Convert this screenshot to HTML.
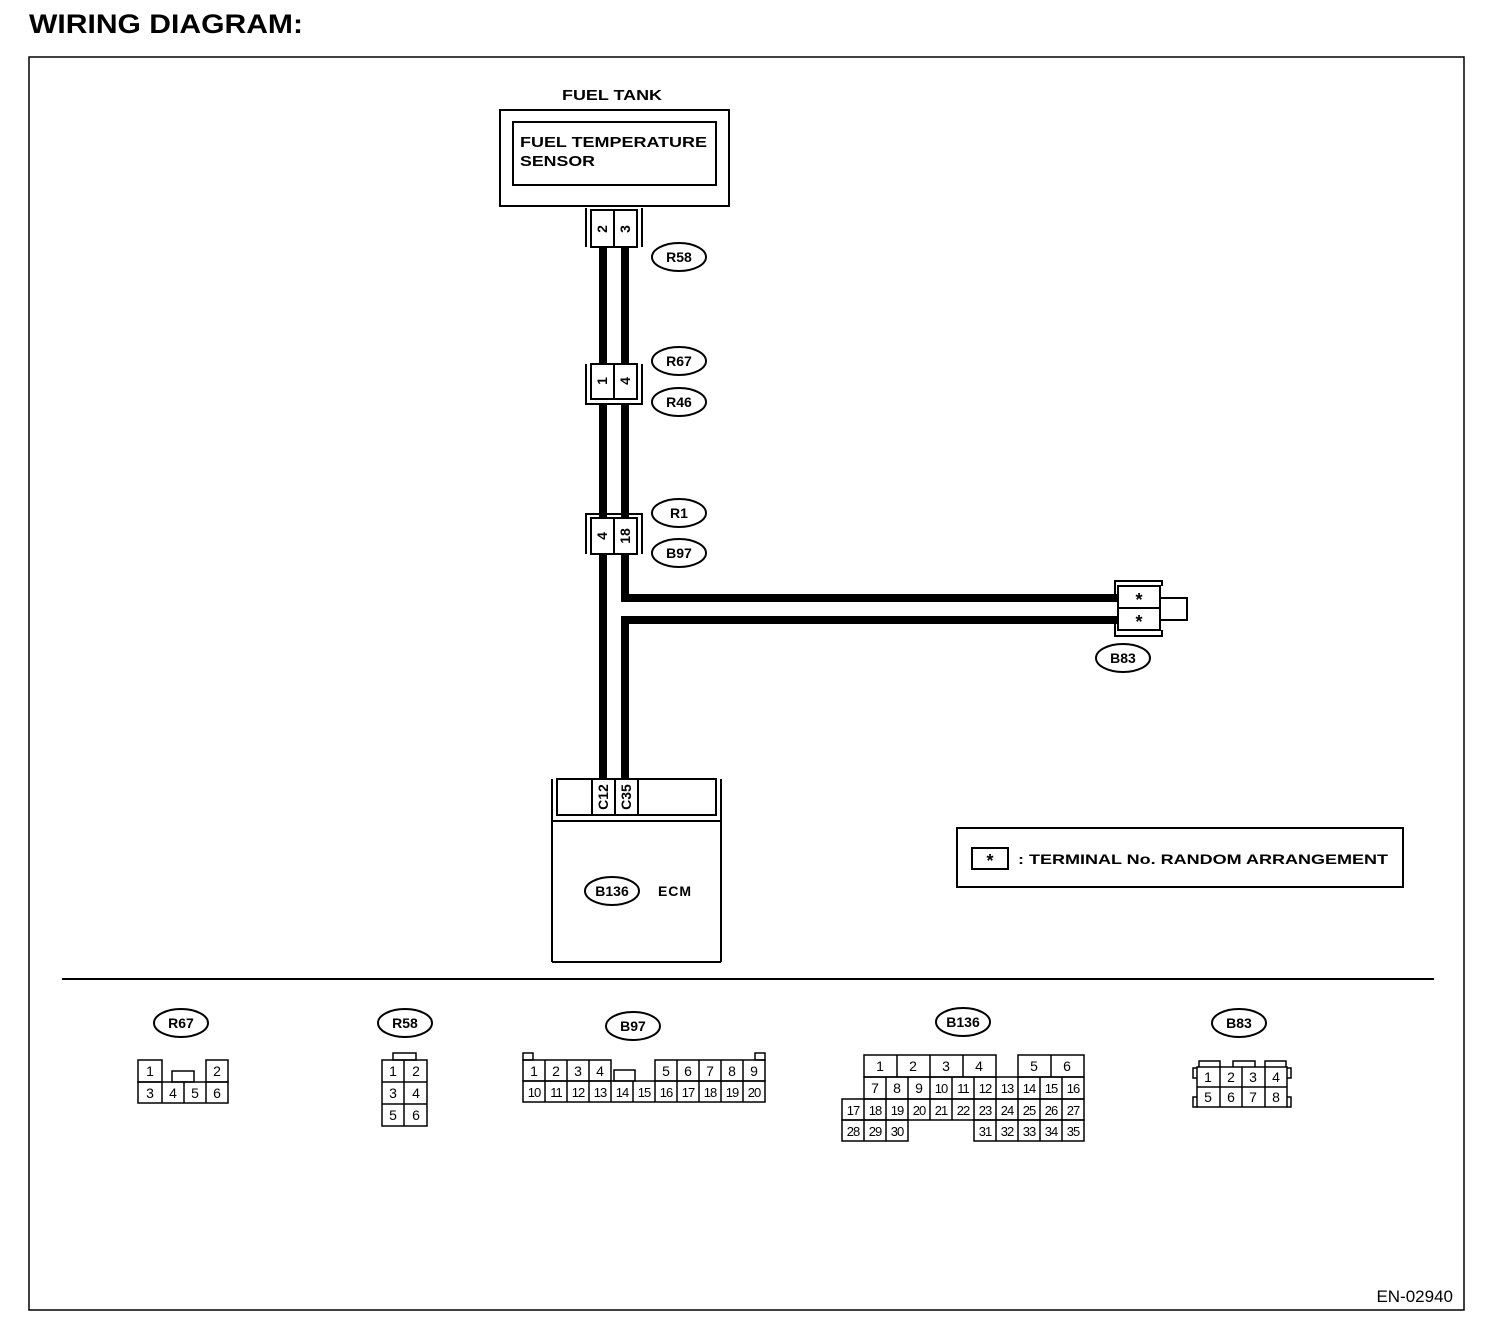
<!DOCTYPE html>
<html><head><meta charset="utf-8"><style>
body{margin:0;background:#fff}
svg{display:block}
text{font-family:"Liberation Sans",Arial,sans-serif;fill:#000}
.b{font-weight:bold}
</style></head><body>
<svg width="1504" height="1338" viewBox="0 0 1504 1338" xmlns="http://www.w3.org/2000/svg">
<text x="29" y="33" class="b" font-size="27" textLength="274" lengthAdjust="spacingAndGlyphs">WIRING DIAGRAM:</text>
<rect x="29" y="57" width="1435" height="1253" fill="none" stroke="#000" stroke-width="1.5"/>

<text x="562" y="100" class="b" font-size="15" textLength="100" lengthAdjust="spacingAndGlyphs">FUEL TANK</text>
<rect x="500" y="110" width="229" height="96" fill="none" stroke="#000" stroke-width="2"/>
<rect x="513" y="122" width="203" height="63" fill="none" stroke="#000" stroke-width="2"/>
<text x="520" y="147" class="b" font-size="15" textLength="187" lengthAdjust="spacingAndGlyphs">FUEL TEMPERATURE</text>
<text x="520" y="166" class="b" font-size="15" textLength="75" lengthAdjust="spacingAndGlyphs">SENSOR</text>

<g fill="none" stroke="#000" stroke-width="2">
<g stroke-width="8">
<line x1="603" y1="248" x2="603" y2="363"/><line x1="625" y1="248" x2="625" y2="363"/>
<line x1="603" y1="403" x2="603" y2="518"/><line x1="625" y1="403" x2="625" y2="518"/>
<line x1="603" y1="555" x2="603" y2="780"/>
<polyline points="625,555 625,598 1118,598"/>
<polyline points="1118,620 625,620 625,780"/>
</g>
<rect x="591" y="210" width="46" height="37" fill="#fff"/><line x1="614" y1="210" x2="614" y2="247"/>
<line x1="586" y1="208" x2="586" y2="247"/><line x1="642" y1="208" x2="642" y2="247"/>
<rect x="591" y="364" width="46" height="35" fill="#fff"/><line x1="614" y1="364" x2="614" y2="399"/>
<polyline points="586,364 586,404 642,404 642,364"/>
<rect x="591" y="518" width="46" height="36" fill="#fff"/><line x1="614" y1="518" x2="614" y2="554"/>
<polyline points="586,554 586,514 642,514 642,554"/>
<rect x="1118" y="586" width="42" height="44" fill="#fff"/><line x1="1118" y1="608" x2="1160" y2="608"/>
<rect x="1160" y="598" width="27" height="22"/>
<polyline points="1115,598 1115,581 1162,581 1162,586"/>
<polyline points="1115,620 1115,636 1162,636 1162,630"/>
<rect x="557" y="779" width="159" height="36"/>
<line x1="592" y1="779" x2="592" y2="815"/><line x1="615" y1="779" x2="615" y2="815"/><line x1="638" y1="779" x2="638" y2="815"/>
<line x1="552" y1="779" x2="552" y2="962"/><line x1="721" y1="779" x2="721" y2="962"/>
<line x1="552" y1="821" x2="721" y2="821"/><line x1="552" y1="962" x2="721" y2="962"/>
<ellipse cx="679" cy="257" rx="27" ry="14"/>
<ellipse cx="679" cy="361" rx="27" ry="14"/>
<ellipse cx="679" cy="402" rx="27" ry="14"/>
<ellipse cx="679" cy="513" rx="27" ry="14"/>
<ellipse cx="679" cy="553" rx="27" ry="14"/>
<ellipse cx="1123" cy="658" rx="27" ry="14"/>
<ellipse cx="612" cy="891" rx="27" ry="14"/>
<rect x="957" y="828" width="446" height="59"/>
<rect x="972" y="848" width="36" height="21"/>
<line x1="62" y1="979" x2="1434" y2="979"/>
<ellipse cx="181" cy="1023" rx="27" ry="14"/>
<ellipse cx="405" cy="1023" rx="27" ry="14"/>
<ellipse cx="633" cy="1026" rx="27" ry="14"/>
<ellipse cx="963" cy="1022" rx="27" ry="14"/>
<ellipse cx="1239" cy="1023" rx="27" ry="14"/>
</g>
<g class="b" font-size="14" text-anchor="middle">
<text x="679" y="262">R58</text><text x="679" y="366">R67</text><text x="679" y="407">R46</text>
<text x="679" y="518">R1</text><text x="679" y="558">B97</text><text x="1123" y="663">B83</text>
<text x="612" y="896">B136</text>
<text x="181" y="1028">R67</text><text x="405" y="1028">R58</text><text x="633" y="1031">B97</text>
<text x="963" y="1027">B136</text><text x="1239" y="1028">B83</text>
</g>
<text x="675" y="896" class="b" font-size="14" text-anchor="middle" letter-spacing="1">ECM</text>
<g class="b" font-size="14" text-anchor="middle">
<text transform="translate(607,229) rotate(-90)">2</text>
<text transform="translate(630,229) rotate(-90)">3</text>
<text transform="translate(607,381) rotate(-90)">1</text>
<text transform="translate(630,381) rotate(-90)">4</text>
<text transform="translate(607,536) rotate(-90)">4</text>
<text transform="translate(630,536) rotate(-90)">18</text>
<text transform="translate(608,797) rotate(-90)">C12</text>
<text transform="translate(631,797) rotate(-90)">C35</text>
<text x="1139" y="606" font-size="18">*</text><text x="1139" y="628" font-size="18">*</text>
<text x="990" y="867" font-size="18">*</text>
</g>
<text x="1018" y="864" class="b" font-size="14" textLength="370" lengthAdjust="spacingAndGlyphs">: TERMINAL No. RANDOM ARRANGEMENT</text>

<g fill="none" stroke="#000" stroke-width="1.5">
<rect x="138" y="1060" width="24" height="22"/><rect x="206" y="1060" width="22" height="22"/>
<rect x="172" y="1071" width="22" height="11"/>
<rect x="138" y="1082" width="90" height="21"/>
<line x1="162" y1="1082" x2="162" y2="1103"/><line x1="184" y1="1082" x2="184" y2="1103"/><line x1="206" y1="1082" x2="206" y2="1103"/>
<rect x="393" y="1053" width="23" height="7"/>
<rect x="382" y="1060" width="45" height="66"/>
<line x1="404" y1="1060" x2="404" y2="1126"/><line x1="382" y1="1082" x2="427" y2="1082"/><line x1="382" y1="1104" x2="427" y2="1104"/>
<rect x="523" y="1053" width="10" height="7"/><rect x="755" y="1053" width="10" height="7"/>
<rect x="523" y="1060" width="88" height="21"/><rect x="655" y="1060" width="110" height="21"/>
<rect x="614" y="1070" width="21" height="11"/>
<rect x="523" y="1081" width="242" height="21"/>
<path d="M545 1060V1102M567 1060V1102M589 1060V1102M611 1081V1102M633 1081V1102M655 1081V1102M677 1060V1102M699 1060V1102M721 1060V1102M743 1060V1102"/>
<rect x="864" y="1055" width="132" height="22"/><rect x="1018" y="1055" width="66" height="22"/>
<path d="M897 1055V1077M930 1055V1077M963 1055V1077M1051 1055V1077"/>
<rect x="864" y="1077" width="220" height="22"/>
<rect x="842" y="1099" width="242" height="21"/>
<rect x="842" y="1120" width="66" height="21"/><rect x="974" y="1120" width="110" height="21"/>
<path d="M886 1077V1141M908 1077V1120M930 1077V1120M952 1077V1120M974 1077V1120M996 1077V1141M1018 1077V1141M1040 1077V1141M1062 1077V1141M864 1099V1141"/>
<rect x="1197" y="1067" width="90" height="40"/><line x1="1197" y1="1087" x2="1287" y2="1087"/>
<path d="M1220 1067V1107M1242 1067V1107M1265 1067V1107"/>
<polyline points="1199,1067 1199,1061 1220,1061 1220,1067"/>
<polyline points="1233,1067 1233,1061 1255,1061 1255,1067"/>
<polyline points="1265,1067 1265,1061 1286,1061 1286,1067"/>
<polyline points="1197,1068 1193,1068 1193,1078 1197,1078"/>
<polyline points="1197,1097 1193,1097 1193,1107 1197,1107"/>
<polyline points="1287,1068 1291,1068 1291,1078 1287,1078"/>
<polyline points="1287,1097 1291,1097 1291,1107 1287,1107"/>
</g>
<g font-size="14" text-anchor="middle">
<text x="150" y="1076">1</text><text x="217" y="1076">2</text>
<text x="150" y="1098">3</text><text x="173" y="1098">4</text><text x="195" y="1098">5</text><text x="217" y="1098">6</text>
<text x="393" y="1076">1</text><text x="416" y="1076">2</text><text x="393" y="1098">3</text><text x="416" y="1098">4</text><text x="393" y="1120">5</text><text x="416" y="1120">6</text>
<text x="534" y="1076">1</text><text x="556" y="1076">2</text><text x="578" y="1076">3</text><text x="600" y="1076">4</text>
<text x="666" y="1076">5</text><text x="688" y="1076">6</text><text x="710" y="1076">7</text><text x="732" y="1076">8</text><text x="754" y="1076">9</text>
</g>
<g font-size="13" text-anchor="middle" letter-spacing="-1">
<text x="534" y="1097">10</text><text x="556" y="1097">11</text><text x="578" y="1097">12</text><text x="600" y="1097">13</text><text x="622" y="1097">14</text><text x="644" y="1097">15</text><text x="666" y="1097">16</text><text x="688" y="1097">17</text><text x="710" y="1097">18</text><text x="732" y="1097">19</text><text x="754" y="1097">20</text>
</g>
<g font-size="14" text-anchor="middle">
<text x="880" y="1071">1</text><text x="913" y="1071">2</text><text x="946" y="1071">3</text><text x="979" y="1071">4</text><text x="1034" y="1071">5</text><text x="1067" y="1071">6</text>
<text x="875" y="1093">7</text><text x="897" y="1093">8</text><text x="919" y="1093">9</text>
<text x="1208" y="1082">1</text><text x="1231" y="1082">2</text><text x="1253" y="1082">3</text><text x="1276" y="1082">4</text>
<text x="1208" y="1102">5</text><text x="1231" y="1102">6</text><text x="1253" y="1102">7</text><text x="1276" y="1102">8</text>
</g>
<g font-size="13" text-anchor="middle" letter-spacing="-1">
<text x="941" y="1093">10</text><text x="963" y="1093">11</text><text x="985" y="1093">12</text><text x="1007" y="1093">13</text><text x="1029" y="1093">14</text><text x="1051" y="1093">15</text><text x="1073" y="1093">16</text>
<text x="853" y="1115">17</text><text x="875" y="1115">18</text><text x="897" y="1115">19</text><text x="919" y="1115">20</text><text x="941" y="1115">21</text><text x="963" y="1115">22</text><text x="985" y="1115">23</text><text x="1007" y="1115">24</text><text x="1029" y="1115">25</text><text x="1051" y="1115">26</text><text x="1073" y="1115">27</text>
<text x="853" y="1136">28</text><text x="875" y="1136">29</text><text x="897" y="1136">30</text>
<text x="985" y="1136">31</text><text x="1007" y="1136">32</text><text x="1029" y="1136">33</text><text x="1051" y="1136">34</text><text x="1073" y="1136">35</text>
</g>
<text x="1453" y="1302" font-size="17" text-anchor="end">EN-02940</text>
</svg>
</body></html>
